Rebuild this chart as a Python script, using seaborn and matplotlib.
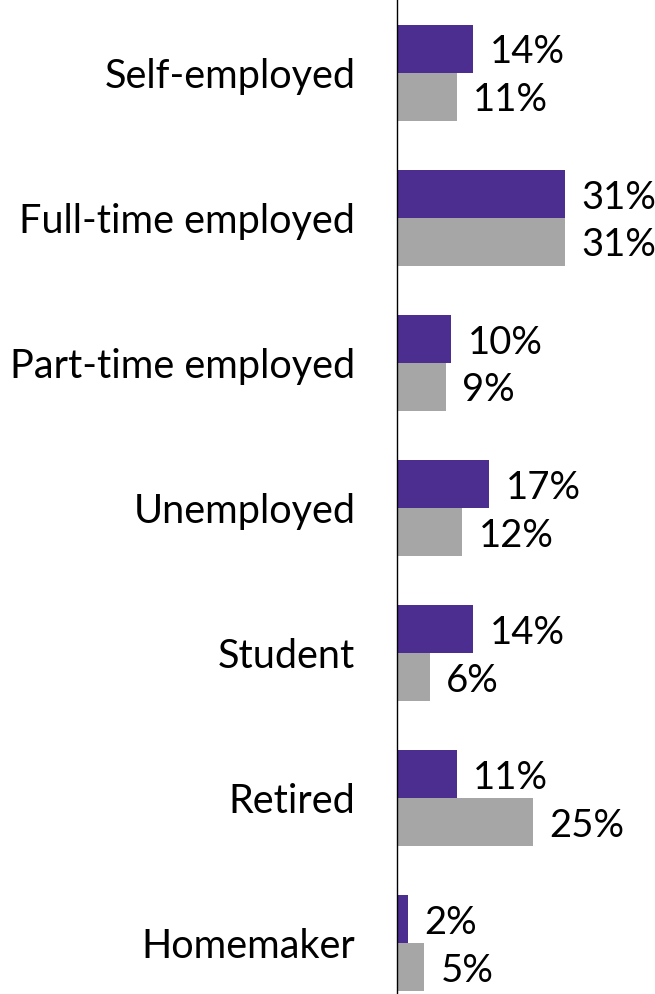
import matplotlib
matplotlib.use('Agg')
import matplotlib.pyplot as plt
import seaborn as sns
import pandas as pd

categories = ['Self-employed', 'Full-time employed', 'Part-time employed',
              'Unemployed', 'Student', 'Retired', 'Homemaker']
series_a = [14, 31, 10, 17, 14, 11, 2]
series_b = [11, 31, 9, 12, 6, 25, 5]
series_names = ['Group A', 'Group B']

sns.set_theme(style='white')
plt.rcParams['font.family'] = ['Lato', 'DejaVu Sans']

df = pd.DataFrame({
    'Category': categories * 2,
    'Value': series_a + series_b,
    'Series': [series_names[0]] * len(categories) + [series_names[1]] * len(categories),
})

fig = plt.figure(figsize=(6.55, 9.94), dpi=100)
ax = fig.add_axes([397 / 655, 0.0, 1 - 397 / 655, 1.0])

sns.barplot(data=df, y='Category', x='Value', hue='Series', orient='h',
            palette=['#4B2E8F', '#A6A6A6'], width=0.66, saturation=1,
            linewidth=0, legend=False, ax=ax)

for cont in ax.containers:
    texts = ax.bar_label(cont, labels=[f'{int(v)}%' for v in cont.datavalues],
                         padding=12, fontsize=27.5, color='black')
    # nudge labels slightly down, as in the original
    for t in texts:
        t.xyann = (t.xyann[0], -2.5)

ax.set_xlim(0, 47.6)
ax.set_ylim(6.35, -0.503)
ax.set_xlabel('')
ax.set_ylabel('')
ax.set_xticks([])
ax.tick_params(axis='y', length=0, pad=30, labelsize=28.5, labelcolor='black')
for side in ['top', 'right', 'bottom']:
    ax.spines[side].set_visible(False)
ax.spines['left'].set_color('black')
ax.spines['left'].set_linewidth(1)

fig.savefig('out.png', dpi=100)
